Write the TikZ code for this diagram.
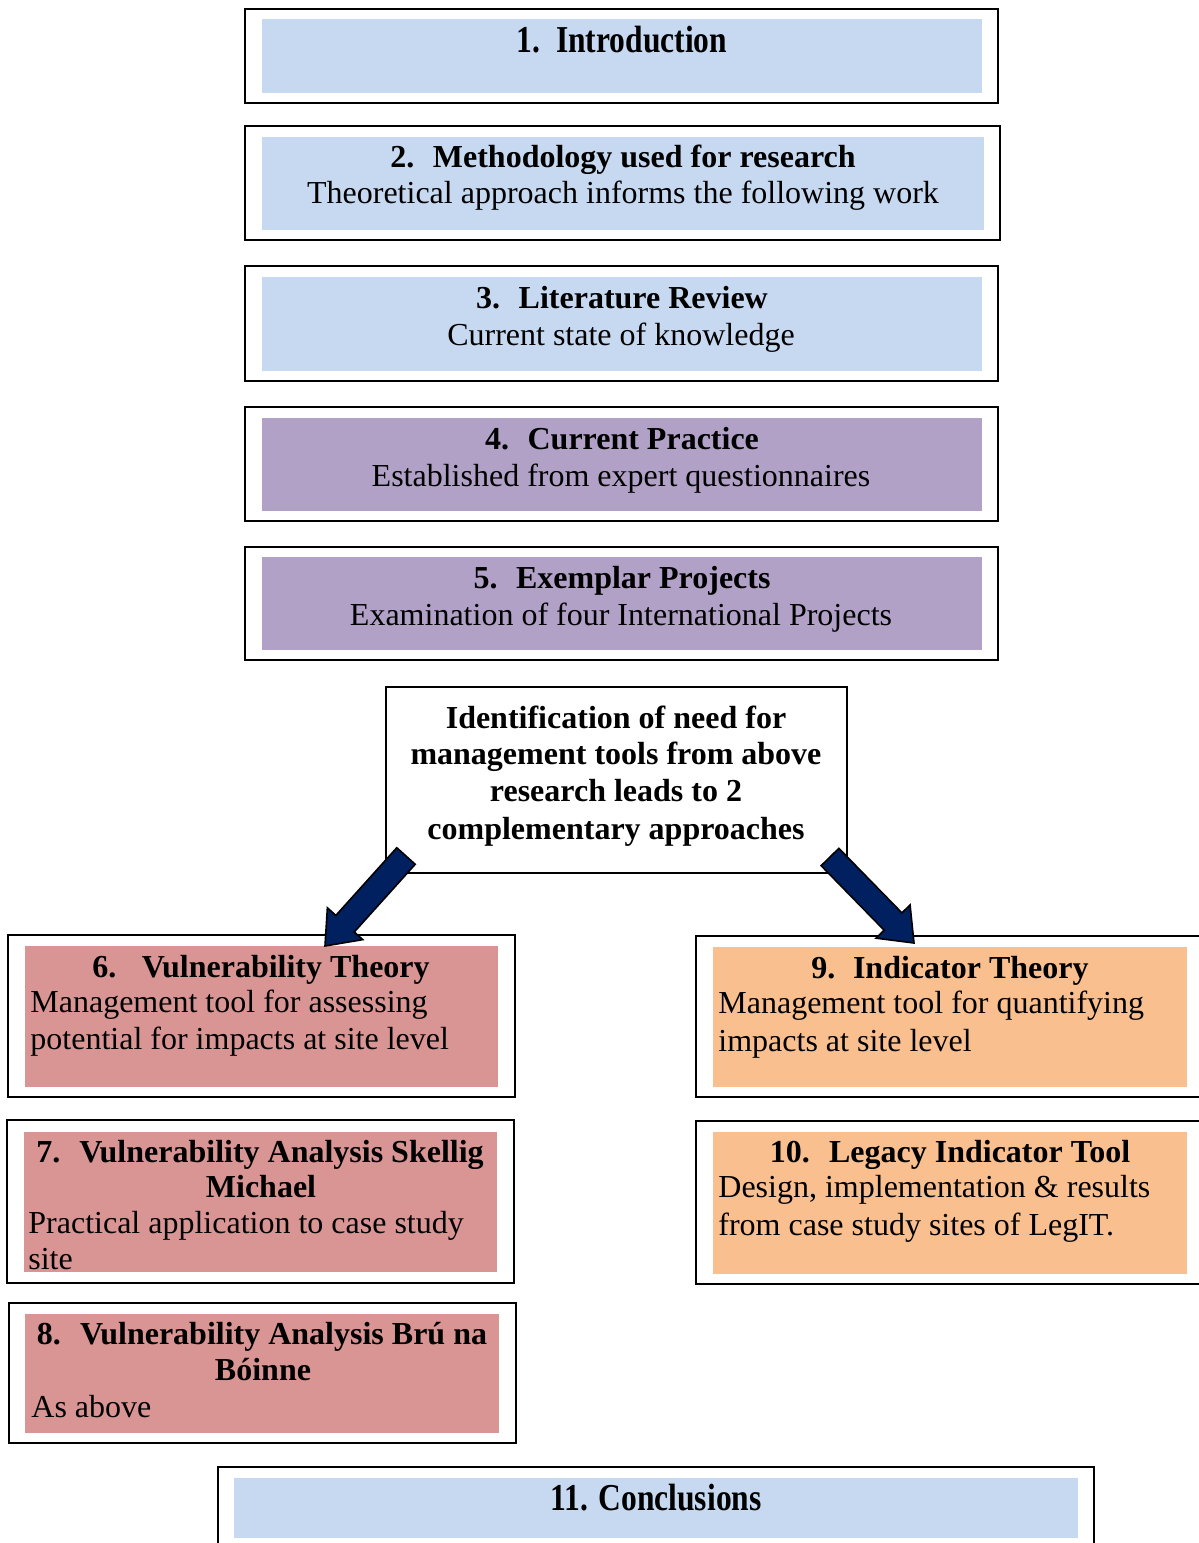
\documentclass[tikz,border=0pt]{standalone}
\usepackage{graphicx}
\usepackage{fontspec}
\setmainfont{Liberation Serif}
\usetikzlibrary{calc}

\definecolor{paleblue}{HTML}{C6D9F1}
\definecolor{lilac}{HTML}{B2A1C7}
\definecolor{rosered}{HTML}{D99594}
\definecolor{peach}{HTML}{F9BF8F}
\definecolor{navyarrow}{HTML}{002060}

\tikzset{
  frame/.style={draw=black, line width=1pt},
  head/.style={font=\fontsize{16}{18}\selectfont\bfseries, inner sep=0pt, anchor=base},
  body/.style={font=\fontsize{16}{18}\selectfont, inner sep=0pt, anchor=base},
  bodyl/.style={body, anchor=base west},
  blockarrow/.style={fill=navyarrow, draw=black, line width=0.8pt, line join=miter},
}

% condensed bold title used for the first and last chapter
\newcommand\narrowtitle[1]{\scalebox{0.83}[1]{\fontsize{19}{22}\selectfont\bfseries #1}}

% thick block arrow from coordinate #1 (tail) to coordinate #2 (tip)
\newcommand\blockarrow[2]{%
  \coordinate (#1-neck) at ($(#2)!15pt!(#1)$);
  \filldraw[blockarrow]
    ($(#1)!6.2pt!90:(#2)$) -- ($(#1-neck)!6.2pt!90:(#2)$) --
    ($(#1-neck)!11.9pt!90:(#2)$) -- (#2) --
    ($(#1-neck)!11.9pt!-90:(#2)$) -- ($(#1-neck)!6.2pt!-90:(#2)$) --
    ($(#1)!6.2pt!-90:(#2)$) -- cycle;}

\begin{document}
\begin{tikzpicture}[x=0.5pt, y=-0.5pt]
\useasboundingbox (0,0) rectangle (1199,1543);
\clip (0,0) rectangle (1199,1543);

% 1. Introduction
\draw[frame] (245,9) rectangle (998,103);
\fill[paleblue] (262,19) rectangle (982,93);
\node[head] (t1) at (622,52) {\narrowtitle{1.\hspace{0.5em}Introduction}};

% 2. Methodology
\draw[frame] (245,126) rectangle (1000,240);
\fill[paleblue] (262,137) rectangle (984,230);
\node[head] (t2) at (623,167) {2.\hspace{0.58em}Methodology used for research};
\node[body] (s2) at (623,203) {Theoretical approach informs the following work};

% 3. Literature review
\draw[frame] (245,266) rectangle (998,381);
\fill[paleblue] (262,277) rectangle (982,371);
\node[head] (t3) at (622,308) {3.\hspace{0.58em}Literature Review};
\node[body] (s3) at (621,345) {Current state of knowledge};

% 4. Current practice
\draw[frame] (245,407) rectangle (998,521);
\fill[lilac] (262,418) rectangle (982,511);
\node[head] (t4) at (622,449) {4.\hspace{0.58em}Current Practice};
\node[body] (s4) at (621,486) {Established from expert questionnaires};

% 5. Exemplar projects
\draw[frame] (245,547) rectangle (998,660);
\fill[lilac] (262,557) rectangle (982,650);
\node[head] (t5) at (622,588) {5.\hspace{0.58em}Exemplar Projects};
\node[body] (s5) at (621,625) {Examination of four International Projects};

% decision box
\draw[frame] (386,687) rectangle (847,873);
\node[head] (c1) at (616,728) {Identification of need for};
\node[head] (c2) at (616,764) {management tools from above};
\node[head] (c3) at (616,801) {research leads to 2};
\node[head] (c4) at (616,839) {complementary approaches};

% 6. Vulnerability theory
\draw[frame] (8,935) rectangle (515,1097);
\fill[rosered] (25,946) rectangle (498,1087);
\node[head] (t6) at (261,977) {6.\hspace{0.8em}Vulnerability Theory};
\node[bodyl] (s6a) at (30,1012) {Management tool for assessing};
\node[bodyl] (s6b) at (30,1049) {potential for impacts at site level};

% 9. Indicator theory
\draw[frame] (696,936) rectangle (1210,1097);
\fill[peach] (713,947) rectangle (1187,1087);
\node[head] (t9) at (950,978) {9.\hspace{0.55em}Indicator Theory};
\node[bodyl] (s9a) at (718,1013) {Management tool for quantifying};
\node[bodyl] (s9b) at (718,1051) {impacts at site level};

% 7. Skellig Michael
\draw[frame] (7,1120) rectangle (514,1283);
\fill[rosered] (24,1132) rectangle (497,1272);
\node[head] (t7a) at (260,1162) {7.\hspace{0.6em}Vulnerability Analysis Skellig};
\node[head] (t7b) at (261,1197) {Michael};
\node[bodyl] (s7a) at (28,1233) {Practical application to case study};
\node[bodyl] (s7b) at (28,1269) {site};

% 10. Legacy indicator tool
\draw[frame] (696,1121) rectangle (1210,1284);
\fill[peach] (713,1132) rectangle (1187,1274);
\node[head] (t10) at (950,1162) {10.\hspace{0.6em}Legacy Indicator Tool};
\node[bodyl] (s10a) at (718,1197) {Design, implementation \& results};
\node[bodyl] (s10b) at (718,1235) {from case study sites of LegIT.};

% 8. Bru na Boinne
\draw[frame] (9,1303) rectangle (516,1443);
\fill[rosered] (25,1314) rectangle (499,1433);
\node[head] (t8a) at (262,1344) {8.\hspace{0.6em}Vulnerability Analysis Brú na};
\node[head] (t8b) at (263,1380) {Bóinne};
\node[bodyl] (s8) at (31,1417) {As above};

% 11. Conclusions
\draw[frame] (218,1467) rectangle (1094,1580);
\fill[paleblue] (234,1478) rectangle (1078,1538);
\node[head] (t11) at (656,1510) {\narrowtitle{11. Conclusions}};

% arrows to the two approaches
\coordinate (ltail) at (406,856);
\coordinate (ltip) at (325,946);
\coordinate (rtail) at (830,857);
\coordinate (rtip) at (914,943);
\blockarrow{ltail}{ltip}
\blockarrow{rtail}{rtip}
\end{tikzpicture}
\end{document}
